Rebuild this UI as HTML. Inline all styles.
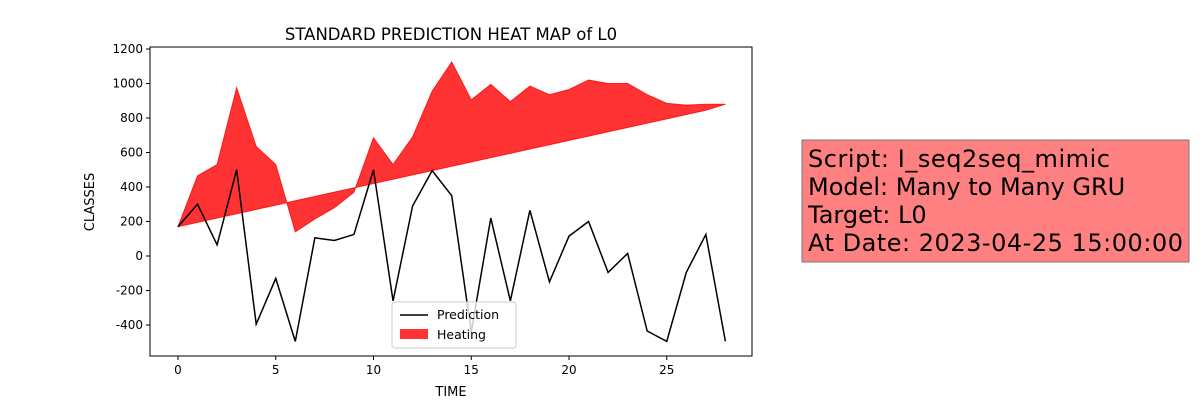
<!DOCTYPE html>
<html><head><meta charset="utf-8"><style>
body{margin:0;background:#fff;width:1202px;height:400px;overflow:hidden;font-family:"DejaVu Sans",sans-serif}
svg text{font-family:"DejaVu Sans","Liberation Sans",sans-serif}
</style></head><body>
<svg id="c" width="1202" height="400"></svg>
<script>
const times=[0,1,2,3,4,5,6,7,8,9,10,11,12,13,14,15,16,17,18,19,20,21,22,23,24,25,26,27,28];
const prediction=[170,300,65,500,-395,-130,-495,105,90,125,500,-260,290,495,350,-440,220,-260,265,-150,115,200,-95,15,-435,-495,-95,125,-495];
const heatUpper=[170,465,530,975,635,530,140,215,280,370,685,530,690,955,1125,905,995,895,985,935,965,1020,1000,1000,935,885,875,880,880];
const heatLower=[170,195,220,245,270,295,320,345,370,395,420,445,470,495,520,545,570,595,620,645,670,695,720,745,770,795,820,845,880];
const xTicks=[0,5,10,15,20,25];
const yTicks=[-400,-200,0,200,400,600,800,1000,1200];
const NS="http://www.w3.org/2000/svg";
const svg=document.getElementById('c');
const L=150,T=47,R=752,B=356;
const X=v=>178+v*19.55;
const Y=v=>256-v*0.1725;
function mk(t,a,p){const e=document.createElementNS(NS,t);for(const k in a)e.setAttribute(k,a[k]);(p||svg).appendChild(e);return e;}
let d='M'+times.map((t,i)=>X(t)+','+Y(heatUpper[i])).join(' L');
for(let i=times.length-1;i>=0;i--)d+=' L'+X(times[i])+','+Y(heatLower[i]);
let e=mk('path',{d:d+'Z',fill:'#ff0000','fill-opacity':0.8,stroke:'#ff0000','stroke-opacity':0.8,'stroke-width':1});


e=mk('polyline',{points:times.map((t,i)=>X(t)+','+Y(prediction[i])).join(' '),fill:'none',stroke:'#000','stroke-width':1.5});


e=mk('rect',{x:L,y:T,width:R-L,height:B-T,fill:'none',stroke:'#000','stroke-width':1});


xTicks.forEach(v=>{mk('line',{x1:X(v),x2:X(v),y1:B,y2:B+4,stroke:'#000'});
e=mk('text',{x:X(v),y:B+18,'font-size':12,'text-anchor':'middle'});e.textContent=v;

});
yTicks.forEach(v=>{mk('line',{x1:L-4,x2:L,y1:Y(v),y2:Y(v),stroke:'#000'});
e=mk('text',{x:L-7,y:Y(v)+4,'font-size':12,'text-anchor':'end'});e.textContent=v;

});
</script>
<svg width="1202" height="400" style="position:absolute;left:0;top:0">
<text x="451" y="40" font-size="16.5" text-anchor="middle">STANDARD PREDICTION HEAT MAP of L0</text>
<text x="451" y="396" font-size="13" text-anchor="middle">TIME</text>
<text x="94" y="202" font-size="13" text-anchor="middle" transform="rotate(-90 94 202)">CLASSES</text>
<g>
<rect x="392" y="302" width="124" height="46" rx="3" fill="#fff" fill-opacity="0.8" stroke="#ccc"/>
<line x1="400" y1="315" x2="428" y2="315" stroke="#000" stroke-width="1.5"/>
<text x="437" y="319" font-size="12.5">Prediction</text>
<rect x="400" y="329" width="28" height="10" fill="#ff0000" fill-opacity="0.8"/>
<text x="437" y="339" font-size="12.5">Heating</text>
</g>
<g>
<rect x="802" y="140" width="387" height="122" fill="#ff8080" stroke="#777"/>
<text x="808" y="167" font-size="24" textLength="302">Script: I_seq2seq_mimic</text>
<text x="808" y="195" font-size="24">Model: Many to Many GRU</text>
<text x="808" y="223" font-size="24">Target: L0</text>
<text x="808" y="251" font-size="24" textLength="375">At Date: 2023-04-25 15:00:00</text>
</g>
</svg>
</body></html>
